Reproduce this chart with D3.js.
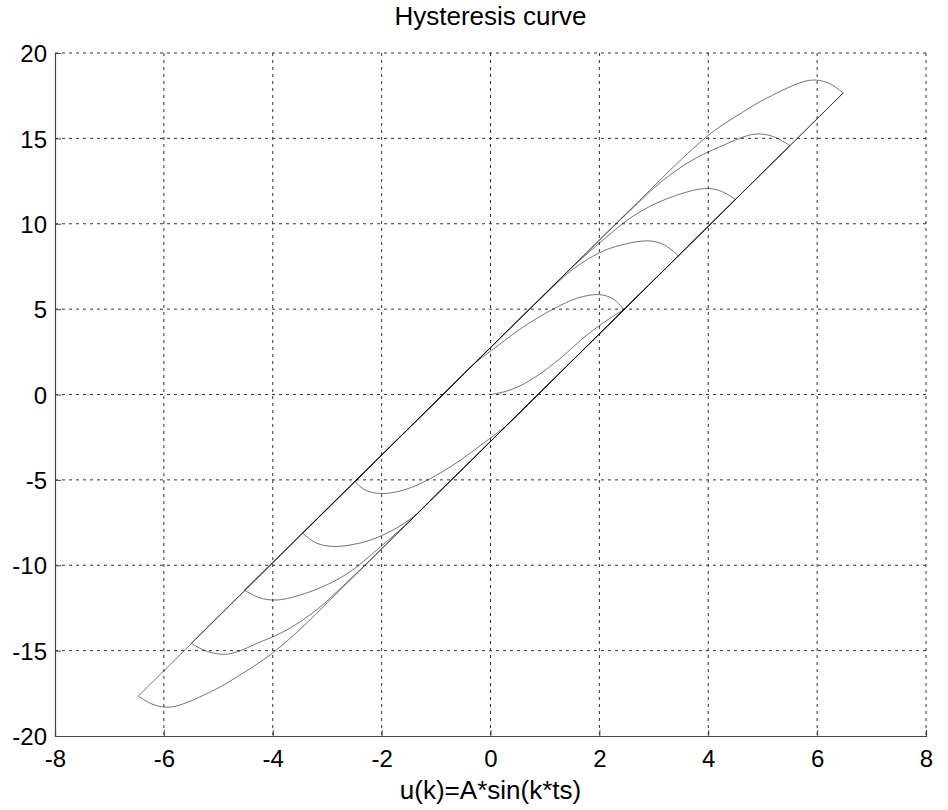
<!DOCTYPE html>
<html>
<head>
<meta charset="utf-8">
<script src="https://cdn.jsdelivr.net/npm/d3@7"></script>
<style>
  body { margin: 0; background: #fff; }
  text { font-family: "Liberation Sans", Arial, Helvetica, sans-serif; fill: #000; }
</style>
</head>
<body>
<svg class="chart" width="948" height="810"></svg>
<script>
// ---- data ----
var xTicks = [-8, -6, -4, -2, 0, 2, 4, 6, 8];
var yTicks = [-20, -15, -10, -5, 0, 5, 10, 15, 20];
var titleText = "Hysteresis curve";
var xLabelText = "u(k)=A*sin(k*ts)";

// first loading from rest
var initialBranch = [[0, 0], [0.3, 0.2], [0.6, 0.6], [0.95, 1.3], [1.35, 2.3], [1.7, 3.3], [2.05, 4.15], [2.45, 4.97]];

// arches at the right end of each loop: from the tip back onto the upper branch
var topArches = [
  [[2.45, 4.97], [2.25, 5.6], [2.0, 5.85], [1.6, 5.65], [1.15, 5.0], [0.6, 3.95], [0.15, 2.9], [-0.3, 1.8], [-0.6, 0.86]],
  [[3.45, 8.12], [3.2, 8.75], [2.9, 9.0], [2.4, 8.75], [2.0, 8.3], [1.5, 7.3], [1.0, 5.85], [0.6, 4.63], [0.3, 3.7]],
  [[4.5, 11.43], [4.2, 11.95], [3.9, 12.05], [3.23, 11.45], [2.62, 10.45], [2.05, 9.0], [1.6, 7.75], [1.2, 6.53]],
  [[5.5, 14.57], [5.2, 15.1], [4.85, 15.25], [4.21, 14.5], [3.72, 13.75], [3.15, 12.5], [2.7, 11.18], [2.3, 9.98]],
  [[6.48, 17.66], [6.2, 18.25], [5.86, 18.4], [5.07, 17.35], [4.64, 16.55], [4.09, 15.4], [3.6, 14.05], [3.2, 12.83]]
];

// arches at the left end of each loop: from the tip back onto the lower branch
var bottomArches = [
  [[-2.49, -5.1], [-2.3, -5.6], [-2.01, -5.8], [-1.6, -5.6], [-1.15, -5.0], [-0.6, -3.95], [-0.15, -2.9], [0.3, -1.8], [0.6, -0.87]],
  [[-3.45, -8.12], [-3.2, -8.7], [-2.87, -8.9], [-2.4, -8.7], [-2.01, -8.28], [-1.45, -7.25], [-1.0, -5.85], [-0.6, -4.63], [-0.3, -3.7]],
  [[-4.52, -11.45], [-4.25, -11.9], [-3.9, -12.03], [-3.23, -11.45], [-2.62, -10.47], [-2.05, -9.0], [-1.6, -7.75], [-1.2, -6.53]],
  [[-5.5, -14.57], [-5.2, -15.05], [-4.82, -15.2], [-4.21, -14.47], [-3.72, -13.75], [-3.15, -12.5], [-2.7, -11.18], [-2.3, -9.98]],
  [[-6.47, -17.66], [-6.2, -18.15], [-5.86, -18.3], [-5.07, -17.3], [-4.64, -16.5], [-4.09, -15.35], [-3.6, -14.05], [-3.2, -12.83]]
];

// ---- layout ----
var svg = d3.select("svg.chart"),
    margin = {top: 53, right: 22, bottom: 74, left: 55};
var width = 948 - margin.left - margin.right,
    height = 810 - margin.top - margin.bottom;
var g = svg.append("g").attr("transform", "translate(" + margin.left + "," + margin.top + ")");

var x = d3.scaleLinear().domain([-8, 8]).range([0, width]);
var y = d3.scaleLinear().domain([-20, 20]).range([height, 0]);

// dotted grid (top and right edges are grid lines too)
g.selectAll("line.vgrid")
  .data(xTicks.filter(function(d) { return d !== -8; }))
  .enter().append("line")
    .attr("class", "vgrid")
    .attr("x1", function(d) { return x(d); })
    .attr("x2", function(d) { return x(d); })
    .attr("y1", 0).attr("y2", height)
    .attr("stroke", "#333").attr("stroke-width", 1)
    .attr("stroke-dasharray", "3,4");

g.selectAll("line.hgrid")
  .data(yTicks.filter(function(d) { return d !== -20; }))
  .enter().append("line")
    .attr("class", "hgrid")
    .attr("x1", 0).attr("x2", width)
    .attr("y1", function(d) { return y(d); })
    .attr("y2", function(d) { return y(d); })
    .attr("stroke", "#333").attr("stroke-width", 1)
    .attr("stroke-dasharray", "3,4");

// axes, ticks inward, plain hyphen minus like the original
var plain = function(d) { return String(d); };
var xAxis = d3.axisBottom(x).tickValues(xTicks).tickFormat(plain).tickSize(-6).tickPadding(9);
var yAxis = d3.axisLeft(y).tickValues(yTicks).tickFormat(plain).tickSize(-6).tickPadding(8);

var gx = g.append("g").attr("transform", "translate(0," + height + ")").call(xAxis);
var gy = g.append("g").call(yAxis);
[gx, gy].forEach(function(ax) {
  ax.select(".domain").attr("stroke", "#444").attr("stroke-width", 1.2);
  ax.selectAll(".tick line").attr("stroke", "#444");
  ax.selectAll(".tick text").style("font-size", "24px").attr("fill", "#000");
});
gx.selectAll(".tick text").attr("dy", "0.9em");
gy.selectAll(".tick text").attr("dy", "0.36em");

// curves
var straight = d3.line()
    .x(function(d) { return x(d[0]); })
    .y(function(d) { return y(d[1]); });
var smooth = d3.line()
    .x(function(d) { return x(d[0]); })
    .y(function(d) { return y(d[1]); })
    .curve(d3.curveCatmullRom.alpha(0.5));

var curves = g.append("g")
    .attr("fill", "none")
    .attr("stroke", "#000")
    .attr("stroke-opacity", 0.55)
    .attr("stroke-width", 1);

curves.append("path").datum(initialBranch).attr("d", smooth);

for (var i = 0; i < topArches.length; i++) {
  var ta = topArches[i], ba = bottomArches[i];
  curves.append("path").datum(ta).attr("d", smooth);
  // upper branch going down to the left tip
  curves.append("path").datum([ta[ta.length - 1], ba[0]]).attr("d", straight);
  curves.append("path").datum(ba).attr("d", smooth);
  // lower branch going up to the next right tip
  var next = i + 1 < topArches.length ? topArches[i + 1][0] : topArches[i][0];
  curves.append("path").datum([ba[ba.length - 1], next]).attr("d", straight);
}

// title and label
svg.append("text")
    .attr("x", margin.left + width / 2).attr("y", 25)
    .attr("text-anchor", "middle")
    .style("font-size", "26px")
    .text(titleText);

svg.append("text")
    .attr("x", margin.left + width / 2).attr("y", 799)
    .attr("text-anchor", "middle")
    .style("font-size", "26px")
    .text(xLabelText);
</script>
</body>
</html>
